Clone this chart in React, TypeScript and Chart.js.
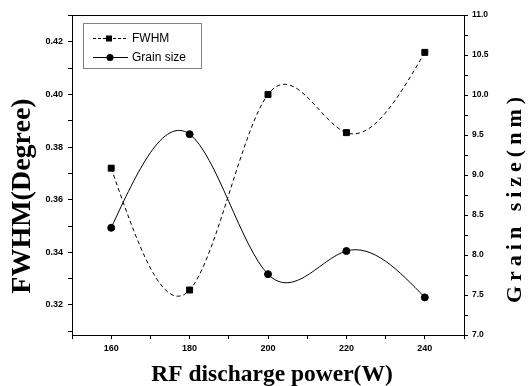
import React, { useEffect, useRef } from "react";
import { Chart, registerables } from "chart.js";
Chart.register(...registerables);

const power = [160, 180, 200, 220, 240];
const fwhm = [0.372, 0.3257, 0.4, 0.3855, 0.416];
const grainSize = [8.34, 9.51, 7.76, 8.05, 7.47];
const xTicks = [150, 160, 170, 180, 190, 200, 210, 220, 230, 240, 250];
const xLabels = [160, 180, 200, 220, 240];
const leftTicks = [0.31, 0.32, 0.33, 0.34, 0.35, 0.36, 0.37, 0.38, 0.39, 0.4, 0.41, 0.42, 0.43];
const leftLabels = [0.32, 0.34, 0.36, 0.38, 0.4, 0.42];
const rightTicks = [7.0, 7.25, 7.5, 7.75, 8.0, 8.25, 8.5, 8.75, 9.0, 9.25, 9.5, 9.75, 10.0, 10.25, 10.5, 10.75, 11.0];
const rightLabels = [7.0, 7.5, 8.0, 8.5, 9.0, 9.5, 10.0, 10.5, 11.0];
const seriesNames = ["FWHM", "Grain size"];
const xTitle = "RF discharge power(W)";
const yTitle = "FWHM(Degree)";
const y2Title = "Grain size(nm)";

const has = (arr: number[], v: number) => arr.some((a) => Math.abs(a - v) < 1e-6);

// Natural cubic spline interpolation: sets bezier control points of the
// line's point elements (the line itself is still drawn by Chart.js).
function splineSlopes(xs: number[], ys: number[]) {
  const n = xs.length;
  const h: number[] = [];
  for (let i = 0; i < n - 1; i++) h.push(xs[i + 1] - xs[i]);
  const M = new Array(n).fill(0);
  if (n > 2) {
    const a: number[] = [], b: number[] = [], c: number[] = [], d: number[] = [];
    for (let i = 1; i < n - 1; i++) {
      a.push(h[i - 1]);
      b.push(2 * (h[i - 1] + h[i]));
      c.push(h[i]);
      d.push(6 * ((ys[i + 1] - ys[i]) / h[i] - (ys[i] - ys[i - 1]) / h[i - 1]));
    }
    const m = a.length;
    for (let i = 1; i < m; i++) {
      const w = a[i] / b[i - 1];
      b[i] -= w * c[i - 1];
      d[i] -= w * d[i - 1];
    }
    const sol = new Array(m);
    sol[m - 1] = d[m - 1] / b[m - 1];
    for (let i = m - 2; i >= 0; i--) sol[i] = (d[i] - c[i] * sol[i + 1]) / b[i];
    for (let i = 0; i < m; i++) M[i + 1] = sol[i];
  }
  const s: number[] = [];
  for (let i = 0; i < n - 1; i++) s.push((ys[i + 1] - ys[i]) / h[i] - (h[i] * (2 * M[i] + M[i + 1])) / 6);
  s.push((ys[n - 1] - ys[n - 2]) / h[n - 2] + (h[n - 2] * (M[n - 2] + 2 * M[n - 1])) / 6);
  return { s, h };
}

const naturalSpline = {
  id: "naturalSpline",
  beforeDatasetsDraw(chart: any) {
    chart.getSortedVisibleDatasetMetas().forEach((meta: any) => {
      const pts = meta.data;
      const n = pts.length;
      if (n < 3) return;
      const xs = pts.map((p: any) => p.x);
      const ys = pts.map((p: any) => p.y);
      const { s, h } = splineSlopes(xs, ys);
      for (let i = 0; i < n; i++) {
        const hl = i > 0 ? h[i - 1] : h[0];
        const hr = i < n - 1 ? h[i] : h[n - 2];
        pts[i].cp1x = xs[i] - hl / 3;
        pts[i].cp1y = ys[i] - (s[i] * hl) / 3;
        pts[i].cp2x = xs[i] + hr / 3;
        pts[i].cp2y = ys[i] + (s[i] * hr) / 3;
      }
      if (meta.dataset) {
        meta.dataset._pointsUpdated = true;
        meta.dataset._path = undefined;
      }
    });
  },
};

const overlay = {
  id: "overlay",
  beforeDraw(chart: any) {
    const ctx = chart.ctx;
    ctx.save();
    ctx.fillStyle = "#fff";
    ctx.fillRect(0, 0, chart.width, chart.height);
    ctx.restore();
  },
  afterDraw(chart: any) {
    const ctx = chart.ctx;
    const { left, top, right } = chart.chartArea;
    ctx.save();
    ctx.strokeStyle = "#000";
    ctx.lineWidth = 1;
    ctx.beginPath();
    ctx.moveTo(left, top + 0.5);
    ctx.lineTo(right, top + 0.5);
    ctx.stroke();

    ctx.fillStyle = "#000";
    ctx.textAlign = "center";
    ctx.textBaseline = "middle";
    ctx.font = 'bold 23.5px "Liberation Serif"';
    ctx.fillText(xTitle, 272, 375);
    ctx.save();
    ctx.translate(23, 196);
    ctx.rotate(-Math.PI / 2);
    ctx.font = 'bold 28px "Liberation Serif"';
    ctx.fillText(yTitle, 0, 0);
    ctx.restore();
    ctx.save();
    ctx.translate(515, 200);
    ctx.rotate(-Math.PI / 2);
    ctx.font = 'bold 22px "Liberation Serif"';
    (ctx as any).letterSpacing = "5px";
    ctx.fillText(y2Title, 2.5, 0);
    ctx.restore();

    // legend
    ctx.setLineDash([1, 1]);
    ctx.strokeRect(83.5, 23.5, 118, 45);
    ctx.setLineDash([3, 2]);
    ctx.beginPath();
    ctx.moveTo(93, 38.5);
    ctx.lineTo(128, 38.5);
    ctx.stroke();
    ctx.setLineDash([]);
    ctx.fillRect(106, 35.5, 6, 6);
    ctx.beginPath();
    ctx.moveTo(93, 57.5);
    ctx.lineTo(128, 57.5);
    ctx.stroke();
    ctx.beginPath();
    ctx.arc(110, 57.5, 3.5, 0, Math.PI * 2);
    ctx.fill();
    ctx.textAlign = "left";
    ctx.font = '12px "Liberation Sans"';
    ctx.fillText(seriesNames[0], 132, 38.5);
    ctx.fillText(seriesNames[1], 132, 57.5);
    ctx.restore();
  },
};

export default function App() {
  const ref = useRef<HTMLCanvasElement>(null);
  useEffect(() => {
    document.body.style.margin = "0";
    const chart = new Chart(ref.current!, {
      type: "line",
      data: {
        datasets: [
          {
            label: seriesNames[0],
            data: power.map((p, i) => ({ x: p, y: fwhm[i] })),
            yAxisID: "y",
            borderColor: "#000",
            backgroundColor: "#000",
            borderWidth: 1,
            borderDash: [4, 3],
            pointStyle: "rect",
            pointRadius: 4.2,
            tension: 0.4,
          },
          {
            label: seriesNames[1],
            data: power.map((p, i) => ({ x: p, y: grainSize[i] })),
            yAxisID: "y2",
            borderColor: "#000",
            backgroundColor: "#000",
            borderWidth: 1,
            pointStyle: "circle",
            pointRadius: 3.5,
            tension: 0.4,
          },
        ],
      },
      options: {
        animation: false,
        responsive: false,
        devicePixelRatio: 1,
        layout: { padding: { top: 15, left: 0, right: 0, bottom: 0 } },
        plugins: { legend: { display: false }, tooltip: { enabled: false } },
        scales: {
          x: {
            type: "linear",
            position: "bottom",
            min: 150,
            max: 250,
            afterBuildTicks: (s: any) => {
              s.ticks = xTicks.map((v) => ({ value: v }));
            },
            afterFit: (s: any) => {
              s.height = 51;
            },
            ticks: {
              autoSkip: false,
              maxRotation: 0,
              color: "#000",
              padding: 4,
              font: { family: "Liberation Sans", weight: "bold", size: 9 },
              callback: (v: any) => (has(xLabels, v) ? String(v) : ""),
            },
            grid: { drawOnChartArea: false, color: "#000", tickLength: 4 },
            border: { color: "#000", width: 1 },
          },
          y: {
            type: "linear",
            position: "left",
            min: 0.3086,
            max: 0.4302,
            afterBuildTicks: (s: any) => {
              s.ticks = leftTicks.map((v) => ({ value: v }));
            },
            afterFit: (s: any) => {
              s.width = 72;
            },
            ticks: {
              autoSkip: false,
              color: "#000",
              padding: 5,
              font: { family: "Liberation Sans", weight: "bold", size: 9 },
              callback: (v: any) => (has(leftLabels, v) ? Number(v).toFixed(2) : ""),
            },
            grid: { drawOnChartArea: false, color: "#000", tickLength: 4 },
            border: { color: "#000", width: 1 },
          },
          y2: {
            type: "linear",
            position: "right",
            min: 7.0,
            max: 11.0,
            afterBuildTicks: (s: any) => {
              s.ticks = rightTicks.map((v) => ({ value: v }));
            },
            afterFit: (s: any) => {
              s.width = 64;
            },
            ticks: {
              autoSkip: false,
              color: "#000",
              padding: 4,
              font: { family: "Liberation Sans", weight: "bold", size: 8.5 },
              callback: (v: any) => (has(rightLabels, v) ? Number(v).toFixed(1) : ""),
            },
            grid: { drawOnChartArea: false, color: "#000", tickLength: 4 },
            border: { color: "#000", width: 1 },
          },
        },
      },
      plugins: [naturalSpline, overlay],
    } as any);
    return () => chart.destroy();
  }, []);
  return (
    <div style={{ position: "absolute", left: 0, top: 0, width: 528, height: 386 }}>
      <canvas ref={ref} width={528} height={386} />
    </div>
  );
}
